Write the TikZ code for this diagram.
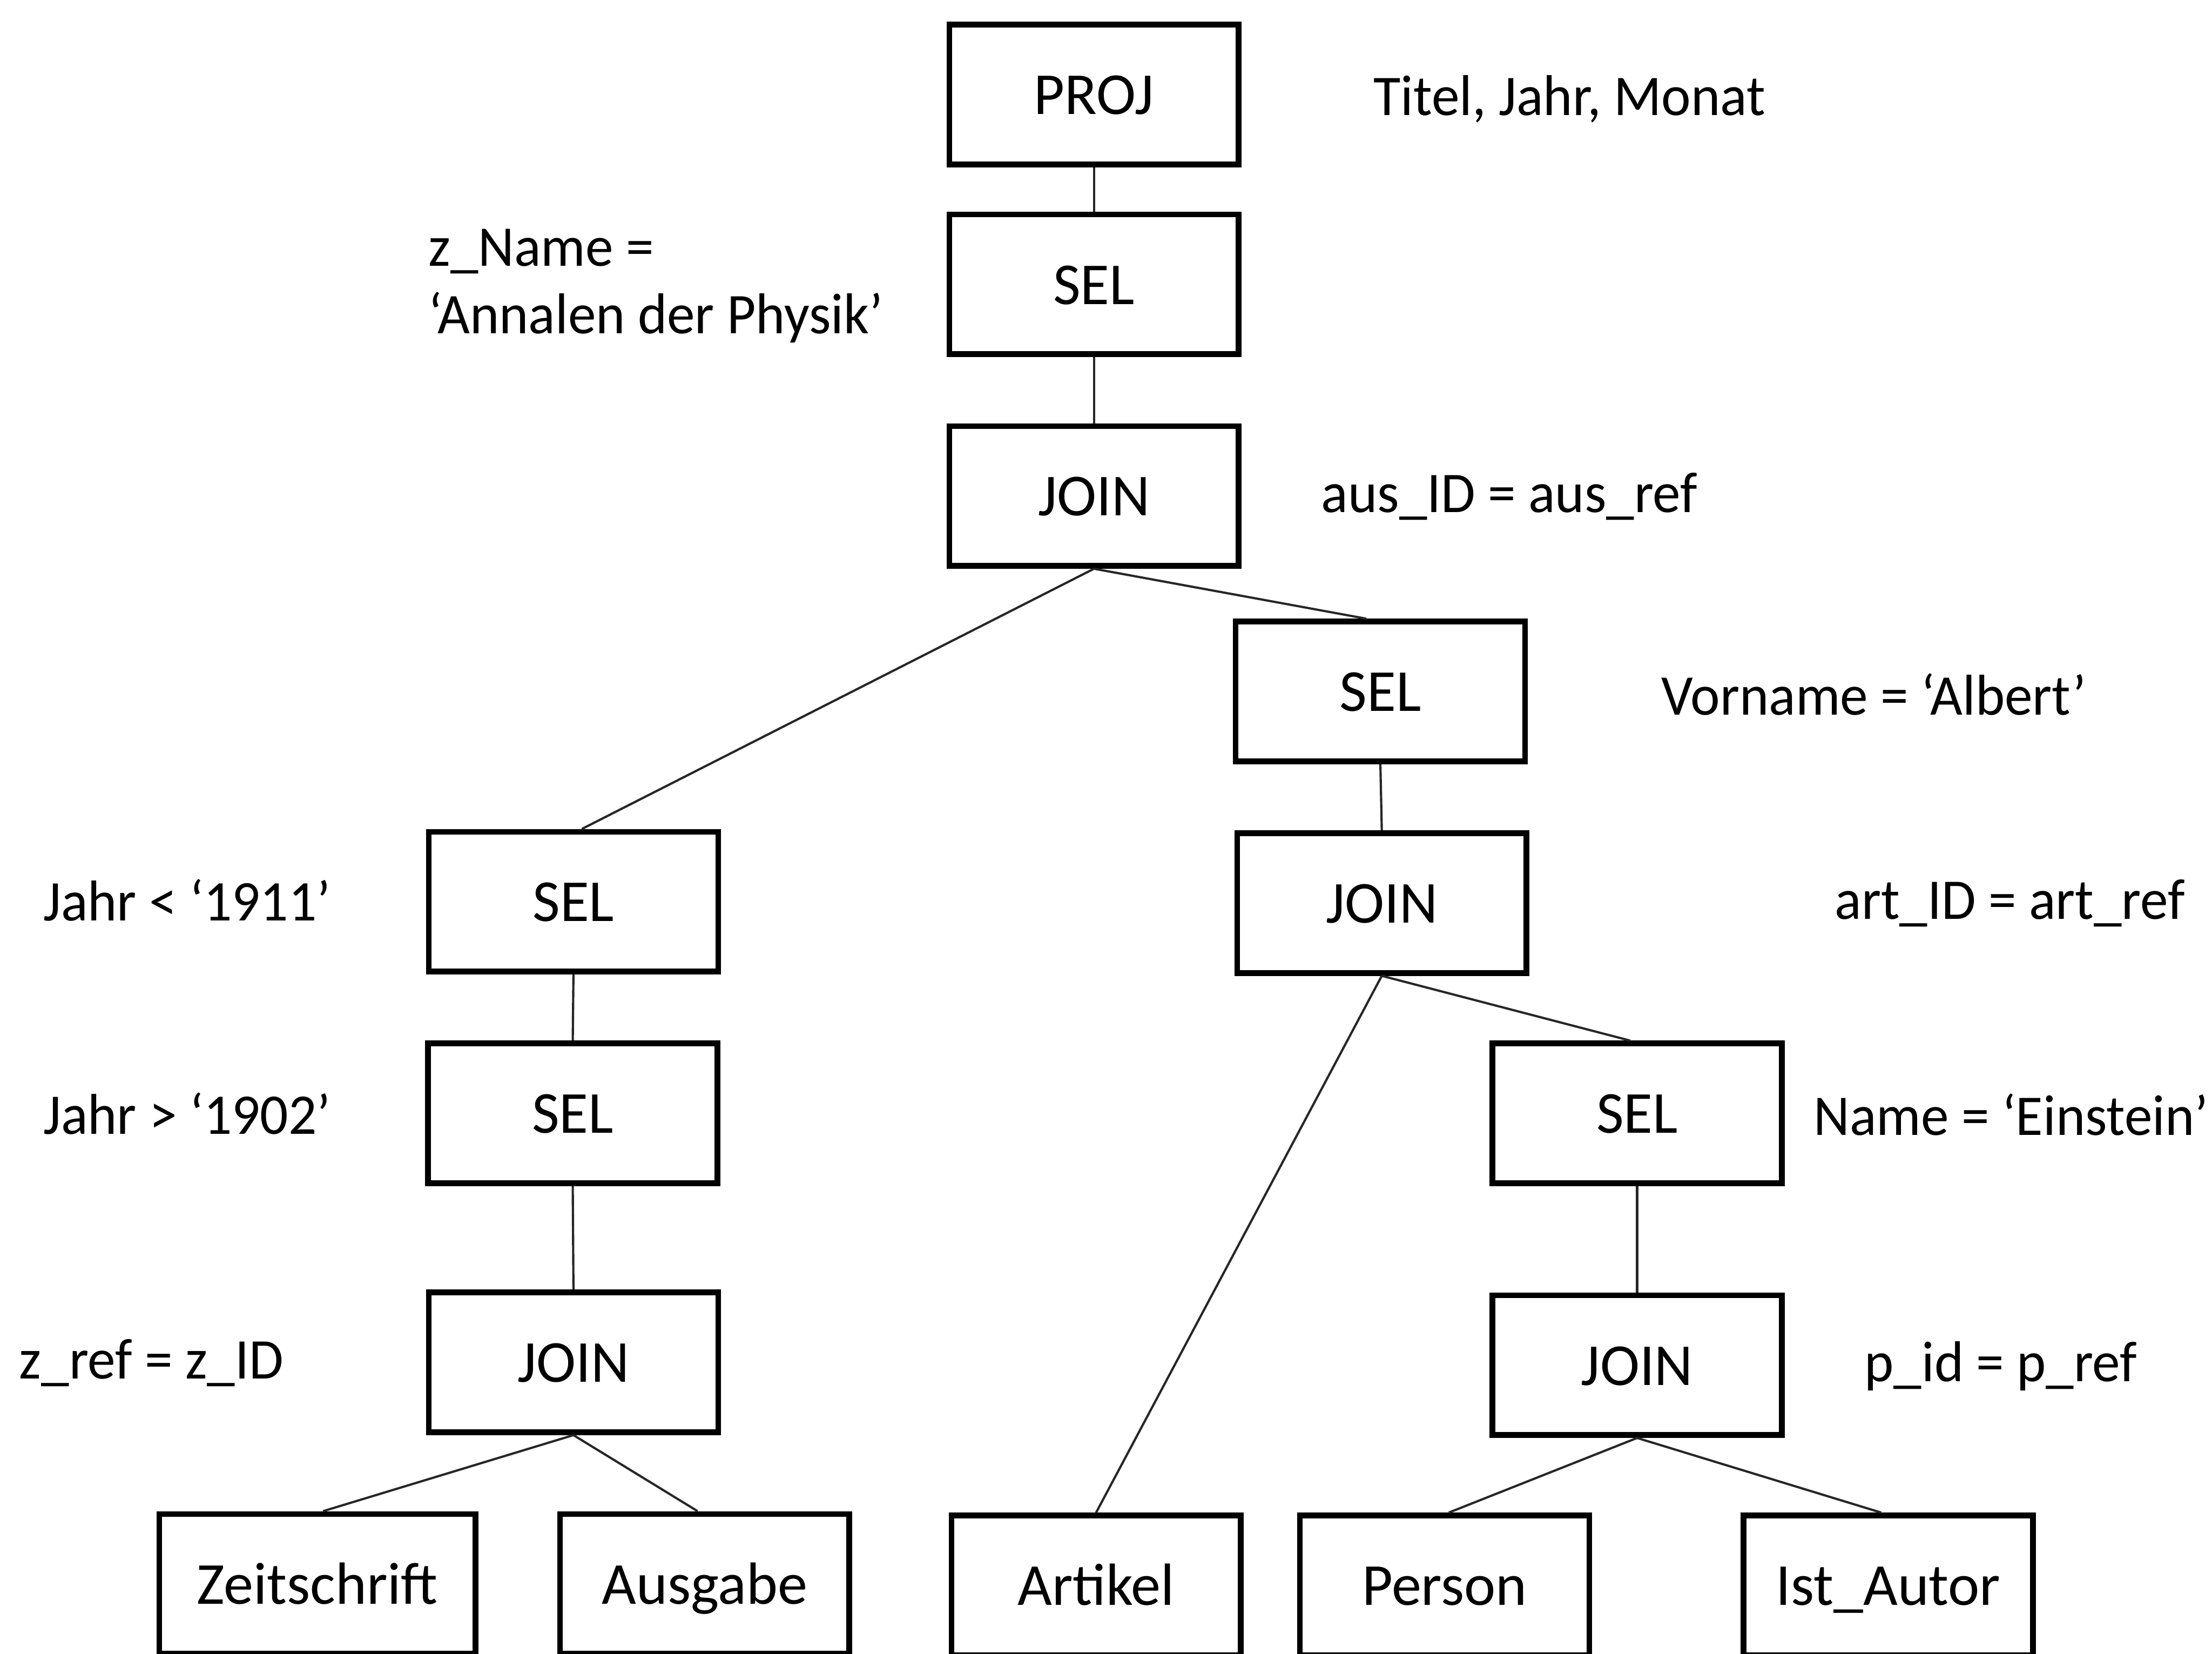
\documentclass[tikz,border=0pt]{standalone}
\usepackage{fontspec}
\setmainfont{Carlito}
\newfontfamily\labfont[FakeStretch=0.97]{Carlito}
\usetikzlibrary{calc}
\begin{document}
\begin{tikzpicture}[x=0.01cm,y=-0.01cm,
  opbox/.style={draw=black, line width=1.15pt, minimum width=2.05cm, minimum height=0.99cm, inner sep=0pt, text height=0.8em, text depth=0pt, font=\fontsize{12}{14}\selectfont},
  cond/.style={anchor=west, inner sep=0pt, font=\labfont\fontsize{11.6}{13}\selectfont},
  edge/.style={draw=black!85, line width=0.45pt}]
\useasboundingbox (0,0) rectangle (1568,1172);
\fill[white] (0,0) rectangle (1568,1172);
% operator boxes
\node[opbox] (proj)   at (775.5,67)   {PROJ};
\node[opbox] (sel1)   at (775.5,201.5) {SEL};
\node[opbox] (join1)  at (775.5,351.5) {JOIN};
\node[opbox] (selR1)  at (978.5,490)  {SEL};
\node[opbox] (joinR1) at (979.5,640)  {JOIN};
\node[opbox] (selL1)  at (406.5,639)  {SEL};
\node[opbox] (selL2)  at (406,789)    {SEL};
\node[opbox] (joinL)  at (406.5,965.5) {JOIN};
\node[opbox] (selR2)  at (1160.5,789) {SEL};
\node[opbox] (joinR2) at (1160.5,967.5) {JOIN};
% relations
\node[opbox, minimum width=2.24cm] (zeit) at (225,1122.5) {Zeitschrift};
\node[opbox] (ausg)     at (499.5,1122.5) {Ausgabe};
\node[opbox] (artikel)  at (777,1123.5)  {Artikel};
\node[opbox] (person)   at (1024,1123.5) {Person};
\node[opbox] (istautor) at (1338.5,1123.5) {Ist\_Autor};
% conditions
\node[cond] (c1) at (973,70)  {Titel, Jahr, Monat};
\node[cond] (c2) at (303,178) {z\_Name =};
\node[cond] (c3) at (303,225) {‘Annalen der Physik’};
\node[cond] (c4) at (936,352) {aus\_ID = aus\_ref};
\node[cond] (c5) at (1177,492) {Vorname = ‘Albert’};
\node[cond] (c6) at (30,638)  {Jahr < ‘1911’};
\node[cond] (c7) at (1300,640) {art\_ID = art\_ref};
\node[cond] (c8) at (30,789)  {Jahr > ‘1902’};
\node[cond] (c9) at (1285,790) {Name = ‘Einstein’};
\node[cond] (c10) at (13,966) {z\_ref = z\_ID};
\node[cond] (c11) at (1321,968) {p\_id = p\_ref};
% connectors
\draw[edge] (proj.south) -- (sel1.north);
\draw[edge] (sel1.south) -- (join1.north);
\draw[edge] (join1.south) -- ([xshift=0.06cm]selL1.north);
\draw[edge] (join1.south) -- ([xshift=-0.10cm]selR1.north);
\draw[edge] (selR1.south) -- (joinR1.north);
\draw[edge] (joinR1.south) -- (artikel.north);
\draw[edge] (joinR1.south) -- ([xshift=-0.05cm]selR2.north);
\draw[edge] (selR2.south) -- (joinR2.north);
\draw[edge] (joinR2.south) -- ([xshift=0.03cm]person.north);
\draw[edge] (joinR2.south) -- ([xshift=-0.05cm]istautor.north);
\draw[edge] (selL1.south) -- (selL2.north);
\draw[edge] (selL2.south) -- (joinL.north);
\draw[edge] (joinL.south) -- ([xshift=0.04cm]zeit.north);
\draw[edge] (joinL.south) -- ([xshift=-0.05cm]ausg.north);
\end{tikzpicture}
\end{document}
